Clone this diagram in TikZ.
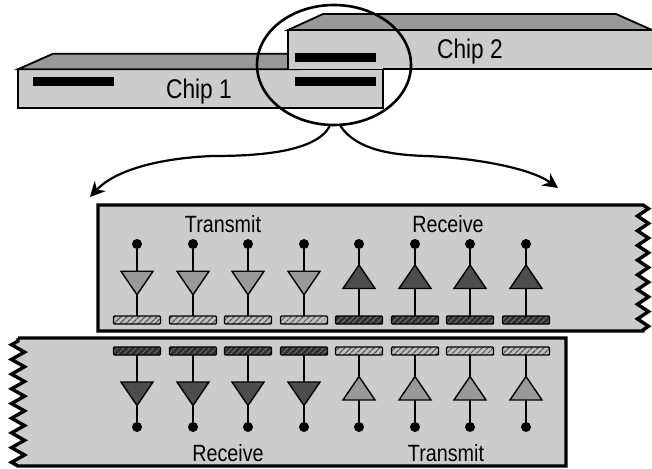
\documentclass[tikz,border=0pt]{standalone}
\usepackage{xcolor}
\usepackage{fontspec}
\setmainfont{Liberation Sans}
\newfontfamily\narrowsans[FakeStretch=0.84]{Liberation Sans}
\usetikzlibrary{arrows.meta,shapes.geometric,patterns.meta,decorations.pathmorphing}
\definecolor{chipface}{HTML}{CCCCCC}
\definecolor{chiptop}{HTML}{999999}
\definecolor{driverdark}{HTML}{4D4D4D}
\definecolor{hatchdark}{HTML}{303030}
\definecolor{hatchmid}{HTML}{707070}
\definecolor{hatchpale}{HTML}{BEBEBE}
\definecolor{hatchline}{HTML}{505050}

\begin{document}
\begin{tikzpicture}[
  x=1pt,y=-1pt,
  chip/.style={draw=black,line width=1.8pt,fill=chipface,outer sep=0pt,inner sep=0pt,minimum height=39pt},
  lid/.style={draw=black,line width=1.8pt,fill=chiptop},
  bar/.style={fill=black,outer sep=0pt,inner sep=0pt,minimum width=81pt,minimum height=9pt},
  tag/.style={font=\narrowsans\fontsize{23.5}{26}\selectfont,inner sep=0pt,text=black},
  chiptag/.style={font=\narrowsans\fontsize{27}{30}\selectfont,inner sep=0pt,text=black},
  board/.style={draw=black,line width=3.4pt,fill=chipface,miter limit=4},
  wiggle/.style={decoration={zigzag,segment length=14.7pt,amplitude=#1}},
  lens/.style={draw=black,line width=2.6pt,ellipse,minimum width=154pt,minimum height=120pt,inner sep=0pt},
  zoomarr/.style={-{Stealth[length=15pt,width=15pt]},draw=black,line width=2.2pt},
  padbase/.style={draw=black,line width=1.4pt,rounded corners=1pt,minimum width=47pt,minimum height=8pt,inner sep=0pt,outer sep=0pt},
  padpale/.style={padbase,preaction={fill=hatchpale},pattern={Lines[angle=45,distance=4pt,line width=1.2pt]},pattern color=hatchline},
  paddark/.style={padbase,preaction={fill=hatchdark},pattern={Lines[angle=45,distance=4pt,line width=1.2pt]},pattern color=hatchmid},
  gate/.style={draw=black,line width=1.4pt,isosceles triangle,isosceles triangle stretches,minimum width=32pt,minimum height=23.5pt,inner sep=0pt,outer sep=0pt},
  gatedown/.style={gate,shape border rotate=-90},
  gateup/.style={gate,shape border rotate=90},
  pin/.style={circle,fill=black,minimum size=10pt,inner sep=0pt,outer sep=0pt},
  stem/.style={draw=black,line width=1.3pt}
]
\useasboundingbox (0,0) rectangle (652,468);

% chips
\node[chip,minimum width=365pt] (chipa) at (200.5,88.75) {};
\draw[lid] (chipa.north west) -- ++(35,-15.5) -- (300,53.75) -- (300,69.25) -- cycle;
\node[bar] (bara) at (73.5,81.5) {};
\node[chiptag,anchor=base] (taga) at (199,99) {Chip 1};
\draw[lid] (288,30) -- ++(35,-16) -- (616,14) -- (652,30) -- cycle;
\fill[chipface] (288,30) rectangle (655,69.25);
\draw[black,line width=1.8pt] (288,69.25) -- (288,30) -- (655,30) (383.25,69.25) -- (655,69.25);
\node[bar] (barb) at (335.5,57.5) {};
\node[bar] (barc) at (335.5,81.5) {};
\node[chiptag,anchor=base] (tagb) at (470,59) {Chip 2};

% zoom ring and arrows
\node[lens] (ring) at (334,65) {};
\coordinate (tipl) at (90,197);
\coordinate (midl) at (213,156);
\coordinate (tipr) at (558,188);
\coordinate (midr) at (426,156);
\draw[zoomarr] (ring.-94) .. controls +(-14,26) and +(45,0) .. (midl) .. controls +(-53,2) and +(25,-27) .. (tipl);
\draw[zoomarr] (ring.-84) .. controls +(17,25) and +(-31,-1) .. (midr) .. controls +(49,2) and +(-28,-20) .. (tipr);

% boards
\draw[board] (98,205) -- (643,205) decorate[wiggle=5.5pt] {-- (643,331)} -- (98,331) -- cycle;
\draw[board] (18,338) -- (566,338) -- (566,466) -- (18,466) decorate[wiggle=6.5pt] {-- cycle};

\node[tag,anchor=base] (txa) at (223,232) {Transmit};
\node[tag,anchor=base] (rxa) at (448,232) {Receive};
\node[tag,anchor=base] (rxb) at (228,461) {Receive};
\node[tag,anchor=base] (txb) at (446,461) {Transmit};

% upper row
\foreach \n/\px in {1/137,2/193,3/248,4/304} {
  \node[padpale] (pa\n) at (\px,320) {};
  \node[gatedown,fill=chiptop] (ga\n) at (\px,279.75) {};
  \node[pin] (da\n) at (\px,244) {};
  \draw[stem] (da\n) -- (ga\n.lower side);
  \draw[stem] (ga\n.apex) -- (pa\n);
}
\foreach \n/\px in {5/359,6/415,7/470,8/526} {
  \node[paddark] (pa\n) at (\px,320) {};
  \node[gateup,fill=driverdark] (ga\n) at (\px,280) {};
  \node[pin] (da\n) at (\px,244) {};
  \draw[stem] (da\n) -- (ga\n.apex);
  \draw[stem] (ga\n.lower side) -- (pa\n);
}

% lower row
\foreach \n/\px in {1/137,2/193,3/248,4/304} {
  \node[paddark] (pb\n) at (\px,351) {};
  \node[gatedown,fill=driverdark] (gb\n) at (\px,390.5) {};
  \node[pin] (db\n) at (\px,427) {};
  \draw[stem] (pb\n) -- (gb\n.lower side);
  \draw[stem] (gb\n.apex) -- (db\n);
}
\foreach \n/\px in {5/359,6/415,7/470,8/526} {
  \node[padpale] (pb\n) at (\px,351) {};
  \node[gateup,fill=chiptop] (gb\n) at (\px,391.5) {};
  \node[pin] (db\n) at (\px,427) {};
  \draw[stem] (pb\n) -- (gb\n.apex);
  \draw[stem] (gb\n.lower side) -- (db\n);
}
\end{tikzpicture}
\end{document}
